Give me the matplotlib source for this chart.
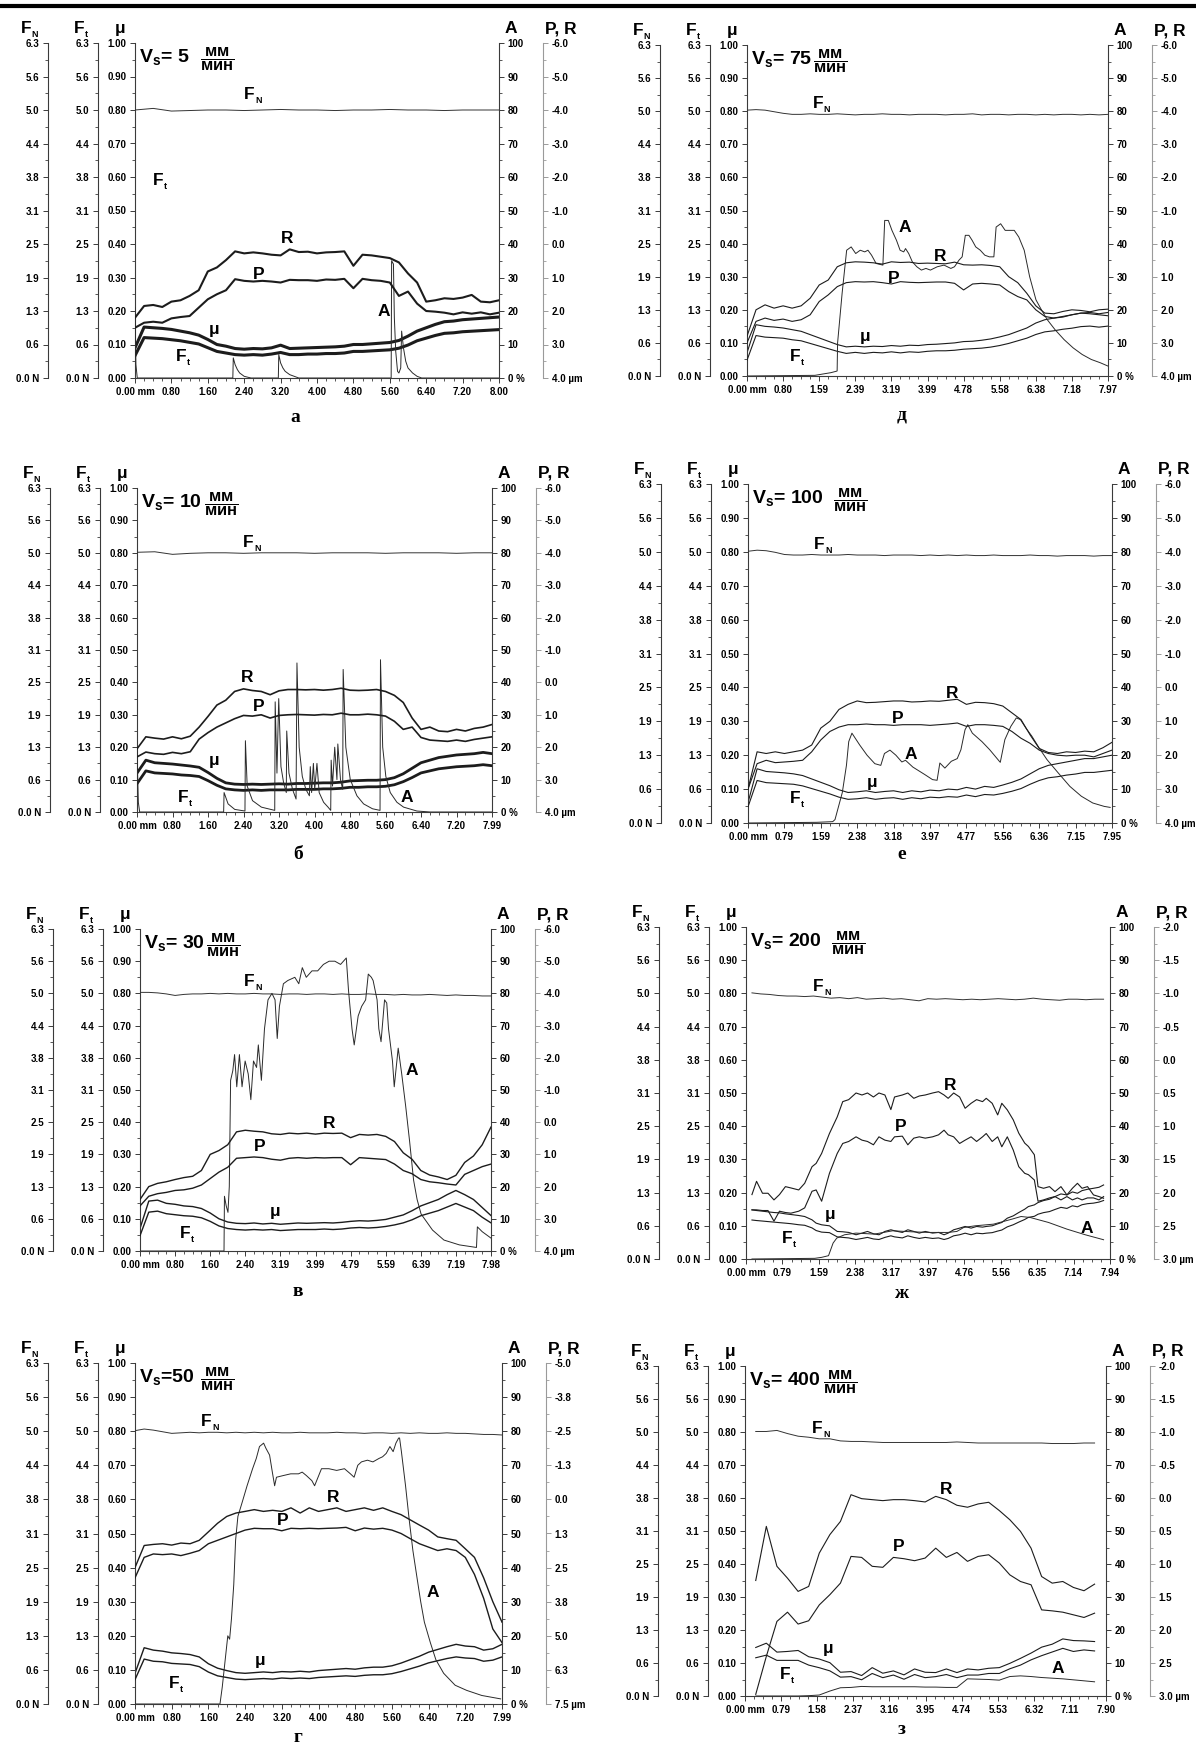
import numpy as np
import matplotlib
matplotlib.use('Agg')
import matplotlib.pyplot as plt
from matplotlib.lines import Line2D

plt.rcParams['font.family'] = ['Liberation Sans', 'DejaVu Sans']
plt.rcParams['font.weight'] = 'bold'
plt.rcParams['mathtext.fontset'] = 'custom'
plt.rcParams['mathtext.rm'] = 'Liberation Sans:bold'
plt.rcParams['mathtext.bf'] = 'Liberation Sans:bold'
plt.rcParams['mathtext.it'] = 'Liberation Sans:italic:bold'
plt.rcParams['mathtext.sf'] = 'Liberation Sans:bold'

# ---------------- DATA ----------------
FN_labels = ['0.0 N', '0.6', '1.3', '1.9', '2.5', '3.1', '3.8', '4.4', '5.0', '5.6', '6.3']
MU_labels = ['0.00', '0.10', '0.20', '0.30', '0.40', '0.50', '0.60', '0.70', '0.80', '0.90', '1.00']
A_labels = ['0 %', '10', '20', '30', '40', '50', '60', '70', '80', '90', '100']
PR_labels_6 = ['-6.0', '-5.0', '-4.0', '-3.0', '-2.0', '-1.0', '0.0', '1.0', '2.0', '3.0', '4.0 µm']
PR_labels_5 = ['-5.0', '-3.8', '-2.5', '-1.3', '0.0', '1.3', '2.5', '3.8', '5.0', '6.3', '7.5 µm']
PR_labels_2 = ['-2.0', '-1.5', '-1.0', '-0.5', '0.0', '0.5', '1.0', '1.5', '2.0', '2.5', '3.0 µm']

X_labels_a = ['0.00 mm', '0.80', '1.60', '2.40', '3.20', '4.00', '4.80', '5.60', '6.40', '7.20', '8.00']
X_labels_b = ['0.00 mm', '0.80', '1.60', '2.40', '3.20', '4.00', '4.80', '5.60', '6.40', '7.20', '7.99']
X_labels_v = ['0.00 mm', '0.80', '1.60', '2.40', '3.19', '3.99', '4.79', '5.59', '6.39', '7.19', '7.98']
X_labels_g = ['0.00 mm', '0.80', '1.60', '2.40', '3.20', '4.00', '4.80', '5.60', '6.40', '7.20', '7.99']
X_labels_d = ['0.00 mm', '0.80', '1.59', '2.39', '3.19', '3.99', '4.78', '5.58', '6.38', '7.18', '7.97']
X_labels_e = ['0.00 mm', '0.79', '1.59', '2.38', '3.18', '3.97', '4.77', '5.56', '6.36', '7.15', '7.95']
X_labels_zh = ['0.00 mm', '0.79', '1.59', '2.38', '3.17', '3.97', '4.76', '5.56', '6.35', '7.14', '7.94']
X_labels_z = ['0.00 mm', '0.79', '1.58', '2.37', '3.16', '3.95', '4.74', '5.53', '6.32', '7.11', '7.90']

# ---- panel а (Vs = 5 mm/min) ----
FN_a = [5.04, 5.07, 5.02, 5.03, 5.04, 5.04, 5.03, 5.04, 5.05, 5.04, 5.04, 5.03, 5.04, 5.04, 5.05, 5.04, 5.04, 5.03, 5.04, 5.04, 5.04]
R_a = [2.2, 1.85, 1.82, 1.88, 1.72, 1.68, 1.55, 1.38, 0.82, 0.70, 0.48, 0.22, 0.28, 0.25, 0.28, 0.32, 0.34, 0.16, 0.24, 0.23,
       0.28, 0.25, 0.24, 0.22, 0.65, 0.32, 0.34, 0.38, 0.42, 0.55, 0.88, 1.15, 1.72, 1.68, 1.62, 1.64, 1.60, 1.52, 1.72, 1.74, 1.68]
P_a = [2.5, 2.35, 2.32, 2.35, 2.22, 2.18, 2.15, 1.9, 1.65, 1.5, 1.38, 1.05, 1.1, 1.12, 1.1, 1.12, 1.15, 1.07, 1.08, 1.08,
       1.1, 1.06, 1.07, 1.04, 1.32, 1.04, 1.08, 1.1, 1.15, 1.55, 1.42, 1.78, 2.0, 2.02, 2.05, 2.1, 2.04, 2.08, 2.04, 2.1, 2.05]
mu_a = [0.09, 0.152, 0.150, 0.148, 0.145, 0.140, 0.135, 0.128, 0.115, 0.100, 0.095, 0.088, 0.086, 0.088, 0.087, 0.090, 0.098, 0.088, 0.089, 0.090,
        0.091, 0.092, 0.093, 0.095, 0.100, 0.100, 0.102, 0.104, 0.106, 0.112, 0.125, 0.140, 0.150, 0.160, 0.168, 0.170, 0.174, 0.176, 0.178, 0.180, 0.182]
Ft_a = [0.42, 0.76, 0.75, 0.74, 0.72, 0.70, 0.67, 0.64, 0.57, 0.50, 0.47, 0.44, 0.43, 0.44, 0.43, 0.45, 0.48, 0.44, 0.44, 0.45,
        0.45, 0.46, 0.46, 0.47, 0.50, 0.50, 0.51, 0.52, 0.53, 0.56, 0.62, 0.70, 0.75, 0.80, 0.84, 0.85, 0.87, 0.88, 0.89, 0.90, 0.91]
A_a = [(0, 21), (0.02, 4), (0.05, 0), (2.15, 0), (2.16, 6), (2.2, 4), (2.25, 2.5), (2.3, 1.5), (2.4, 0.5), (2.55, 0),
       (3.15, 0), (3.16, 7), (3.2, 4.5), (3.25, 3), (3.3, 2), (3.4, 1), (3.6, 0), (5.63, 0), (5.64, 35), (5.68, 34),
       (5.70, 18), (5.73, 8), (5.77, 2), (5.80, 1.5), (5.84, 3), (5.86, 14), (5.9, 9), (5.95, 5), (6.0, 3), (6.1, 1.5),
       (6.2, 0.5), (6.3, 0), (8.0, 0)]

# ---- panel б (Vs = 10 mm/min) ----
FN_b = [5.05, 5.06, 5.01, 5.03, 5.04, 5.04, 5.03, 5.04, 5.04, 5.04, 5.03, 5.04, 5.04, 5.04, 5.03, 5.04, 5.04, 5.04, 5.03, 5.04, 5.04]
R_b = [2.05, 1.68, 1.72, 1.75, 1.68, 1.74, 1.66, 1.38, 1.05, 0.7, 0.55, 0.28, 0.2, 0.25, 0.28, 0.38, 0.26, 0.22, 0.22, 0.23,
       0.22, 0.24, 0.22, 0.18, 0.24, 0.25, 0.24, 0.22, 0.28, 0.4, 0.62, 1.1, 1.45, 1.38, 1.5, 1.52, 1.45, 1.5, 1.42, 1.38, 1.3]
P_b = [2.3, 2.15, 2.2, 2.22, 2.16, 2.2, 2.14, 1.75, 1.55, 1.38, 1.25, 1.12, 1.02, 1.04, 1.0, 1.1, 1.02, 1.0, 0.99, 1.0,
       1.01, 0.99, 1.0, 0.95, 1.0, 1.0, 0.98, 1.0, 1.04, 1.2, 1.45, 1.38, 1.7, 1.78, 1.8, 1.82, 1.78, 1.82, 1.76, 1.72, 1.68]
mu_b = [0.12, 0.160, 0.152, 0.150, 0.148, 0.145, 0.142, 0.138, 0.122, 0.104, 0.090, 0.086, 0.085, 0.086, 0.085, 0.086, 0.087, 0.086, 0.088, 0.088,
        0.089, 0.090, 0.090, 0.092, 0.096, 0.097, 0.098, 0.098, 0.100, 0.106, 0.118, 0.135, 0.152, 0.160, 0.168, 0.172, 0.176, 0.178, 0.180, 0.184, 0.180]
Ft_b = [0.55, 0.80, 0.76, 0.75, 0.74, 0.72, 0.71, 0.69, 0.61, 0.52, 0.45, 0.43, 0.42, 0.43, 0.42, 0.43, 0.43, 0.43, 0.44, 0.44,
        0.44, 0.45, 0.45, 0.46, 0.48, 0.48, 0.49, 0.49, 0.50, 0.53, 0.59, 0.67, 0.76, 0.80, 0.84, 0.86, 0.88, 0.89, 0.90, 0.92, 0.90]
A_b = [(0, 19), (0.03, 3), (0.06, 0), (1.95, 0), (1.96, 6), (2.05, 2.5), (2.2, 0.8), (2.43, 0.3),
       (2.44, 22), (2.48, 8), (2.6, 3.5), (2.8, 1.5), (3.1, 0.5),
       (3.11, 34), (3.15, 12), (3.17, 24), (3.19, 35), (3.24, 14), (3.3, 9), (3.36, 6), (3.37, 25), (3.42, 12), (3.5, 7), (3.58, 4),
       (3.6, 46), (3.65, 20), (3.72, 11), (3.8, 7), (3.88, 5), (3.9, 14), (3.93, 6), (3.97, 15), (4.0, 7), (4.05, 15), (4.1, 6),
       (4.2, 3), (4.3, 1.5), (4.36, 0.5), (4.37, 16), (4.4, 8), (4.45, 20), (4.5, 10), (4.52, 21), (4.58, 10), (4.63, 7),
       (4.64, 44), (4.7, 20), (4.8, 10), (4.95, 5), (5.1, 2.5), (5.3, 1), (5.47, 0.5),
       (5.48, 47), (5.53, 20), (5.6, 11), (5.7, 6), (5.85, 3), (6.0, 1.5), (6.3, 0.3), (6.6, 0), (7.99, 0)]

# ---- panel в (Vs = 30 mm/min) ----
FN_v = [5.06, 5.06, 5.05, 5.03, 5.0, 5.02, 5.03, 5.03, 5.04, 5.03, 5.04, 5.03, 5.03, 5.04, 5.03, 5.03, 5.02, 5.03, 5.03, 5.02,
        5.03, 5.03, 5.02, 5.03, 5.02, 5.02, 5.03, 5.02, 5.02, 5.01, 5.02, 5.01, 5.01, 5.02, 5.01, 5.0, 5.01, 5.0, 5.0, 4.99, 4.99]
R_v = [2.4, 2.0, 1.9, 1.85, 1.78, 1.72, 1.68, 1.5, 1.0, 0.88, 0.7, 0.3, 0.25, 0.28, 0.3, 0.36, 0.38, 0.34, 0.36, 0.34,
       0.37, 0.34, 0.35, 0.34, 0.48, 0.38, 0.4, 0.38, 0.44, 0.6, 0.95, 1.15, 1.5, 1.64, 1.7, 1.78, 1.65, 1.25, 1.05, 0.7, 0.15]
P_v = [2.6, 2.3, 2.22, 2.18, 2.12, 2.1, 2.05, 1.95, 1.75, 1.55, 1.4, 1.12, 1.1, 1.08, 1.1, 1.15, 1.18, 1.12, 1.1, 1.12,
       1.1, 1.11, 1.1, 1.1, 1.32, 1.1, 1.12, 1.14, 1.16, 1.3, 1.5, 1.6, 1.78, 1.85, 1.88, 1.92, 1.95, 1.62, 1.5, 1.38, 1.3]
mu_v = [0.07, 0.155, 0.158, 0.148, 0.145, 0.14, 0.138, 0.132, 0.118, 0.10, 0.09, 0.086, 0.085, 0.087, 0.084, 0.086, 0.083, 0.085, 0.087, 0.086,
        0.087, 0.088, 0.087, 0.089, 0.092, 0.094, 0.093, 0.095, 0.098, 0.105, 0.112, 0.125, 0.14, 0.15, 0.16, 0.175, 0.188, 0.175, 0.16, 0.135, 0.11]
Ft_v = [0.30, 0.76, 0.78, 0.73, 0.71, 0.69, 0.68, 0.65, 0.58, 0.49, 0.44, 0.42, 0.41, 0.42, 0.41, 0.42, 0.40, 0.41, 0.42, 0.42,
        0.42, 0.43, 0.42, 0.43, 0.45, 0.46, 0.45, 0.46, 0.48, 0.51, 0.55, 0.61, 0.69, 0.74, 0.79, 0.86, 0.93, 0.86, 0.79, 0.66, 0.55]
A_v = [(0, 0), (1.91, 0), (1.92, 17), (1.96, 14), (2.0, 12), (2.03, 20), (2.06, 53), (2.11, 56), (2.15, 61), (2.2, 51),
       (2.26, 61), (2.32, 51), (2.39, 59), (2.46, 55), (2.52, 47), (2.58, 59), (2.65, 57), (2.69, 64), (2.76, 53), (2.83, 69),
       (2.91, 78), (3.0, 80), (3.07, 78), (3.12, 66), (3.17, 76), (3.26, 83), (3.36, 84), (3.52, 85), (3.61, 83), (3.69, 88),
       (3.78, 85), (3.91, 87), (4.04, 87), (4.17, 89), (4.3, 90), (4.43, 90), (4.56, 89), (4.69, 91), (4.74, 81), (4.82, 69),
       (4.87, 64), (4.96, 73), (5.04, 76), (5.13, 78), (5.19, 86), (5.26, 85), (5.30, 84), (5.39, 78), (5.43, 69), (5.48, 65),
       (5.56, 78), (5.61, 77), (5.65, 69), (5.74, 59), (5.78, 51), (5.87, 63), (5.95, 55), (6.04, 45), (6.13, 34), (6.22, 22),
       (6.3, 16), (6.39, 11.5), (6.65, 6.5), (6.91, 3.4), (7.26, 1.9), (7.65, 1.1), (7.67, 7.5), (7.78, 6), (7.98, 4)]

# ---- panel г (Vs = 50 mm/min) ----
FN_g = [5.05, 5.08, 5.06, 5.03, 5.0, 5.01, 5.02, 5.01, 5.02, 5.02, 5.01, 5.02, 5.01, 5.02, 5.01, 5.02, 5.01, 5.01, 5.02, 5.01,
        5.01, 5.01, 5.02, 5.01, 5.01, 5.0, 5.01, 5.01, 5.0, 5.01, 5.0, 5.01, 5.0, 5.0, 5.01, 5.0, 5.0, 4.99, 4.98, 4.98, 4.97]
R_g = [2.5, 1.69, 1.65, 1.625, 1.675, 1.6, 1.625, 1.5, 1.19, 0.875, 0.625, 0.5, 0.44, 0.375, 0.44, 0.4, 0.44, 0.31, 0.5, 0.31,
       0.44, 0.375, 0.31, 0.44, 0.375, 0.31, 0.4, 0.31, 0.44, 0.56, 0.75, 0.94, 1.125, 1.375, 1.44, 1.5, 1.81, 2.125, 2.875, 3.75, 4.5]
P_g = [2.875, 2.125, 2.0, 2.025, 2.0, 2.06, 1.975, 1.875, 1.625, 1.5, 1.375, 1.25, 1.125, 1.06, 1.075, 1.075, 1.15, 1.06, 1.075, 1.06,
       1.075, 1.06, 1.05, 1.025, 1.15, 1.05, 1.09, 1.06, 1.125, 1.25, 1.44, 1.625, 1.75, 1.875, 1.81, 1.875, 2.125, 2.75, 3.625, 4.75, 5.25]
mu_g = [0.09, 0.165, 0.158, 0.155, 0.150, 0.148, 0.145, 0.138, 0.118, 0.105, 0.098, 0.092, 0.090, 0.092, 0.094, 0.092, 0.095, 0.094, 0.096, 0.094,
        0.098, 0.100, 0.102, 0.104, 0.102, 0.106, 0.108, 0.108, 0.112, 0.12, 0.13, 0.14, 0.152, 0.16, 0.168, 0.175, 0.17, 0.168, 0.158, 0.162, 0.175]
Ft_g = [0.45, 0.83, 0.79, 0.78, 0.75, 0.74, 0.73, 0.69, 0.59, 0.52, 0.49, 0.46, 0.45, 0.46, 0.47, 0.46, 0.48, 0.47, 0.48, 0.47,
        0.49, 0.50, 0.51, 0.52, 0.51, 0.53, 0.54, 0.54, 0.56, 0.60, 0.65, 0.70, 0.76, 0.80, 0.84, 0.87, 0.85, 0.84, 0.79, 0.81, 0.87]
A_g = [(0, 0), (1.85, 0), (1.9, 5), (1.98, 15), (2.02, 20), (2.06, 19), (2.1, 25), (2.15, 35), (2.19, 48), (2.24, 55),
       (2.33, 59), (2.44, 64), (2.56, 69), (2.64, 72), (2.71, 75.5), (2.8, 76.5), (2.85, 75), (2.93, 73), (2.99, 68), (3.04, 64),
       (3.08, 66.5), (3.23, 67), (3.39, 67.5), (3.56, 67.5), (3.64, 68), (3.73, 67), (3.85, 65.5), (3.91, 64), (3.97, 66), (4.06, 69),
       (4.22, 69), (4.39, 68.5), (4.56, 69), (4.69, 67.5), (4.77, 66.5), (4.85, 70), (4.93, 71), (5.06, 71.5), (5.18, 71), (5.31, 72),
       (5.39, 72.5), (5.47, 73.5), (5.55, 75.5), (5.62, 74), (5.68, 76.5), (5.74, 78), (5.76, 78), (5.8, 74), (5.89, 64), (5.97, 54),
       (6.05, 45), (6.14, 37), (6.22, 30), (6.3, 24), (6.43, 18), (6.55, 13), (6.72, 9), (6.97, 5.5), (7.22, 4), (7.55, 2.5), (7.96, 1.5)]

# ---- panel д (Vs = 75 mm/min) ----
FN_d = [5.06, 5.07, 5.06, 5.03, 5.0, 4.98, 4.98, 4.99, 4.98, 4.98, 4.99, 4.98, 4.97, 4.98, 4.98, 4.99, 4.98, 4.98, 4.97, 4.98,
        4.98, 4.98, 4.97, 4.98, 4.98, 4.99, 4.97, 4.98, 4.98, 4.97, 4.98, 4.98, 4.97, 4.98, 4.97, 4.98, 4.98, 4.97, 4.98, 4.97, 4.98]
R_d = [2.8, 2.0, 1.85, 1.95, 1.88, 1.95, 1.88, 1.65, 1.25, 1.1, 0.7, 0.58, 0.55, 0.56, 0.58, 0.62, 0.55, 0.57, 0.56, 0.6,
       0.59, 0.6, 0.61, 0.56, 0.64, 0.65, 0.64, 0.66, 0.7, 1.0, 1.18, 1.5, 1.88, 2.1, 2.12, 2.05, 2.0, 2.02, 2.06, 2.0, 1.98]
P_d = [3.0, 2.35, 2.25, 2.32, 2.28, 2.35, 2.3, 2.15, 1.75, 1.55, 1.3, 1.18, 1.15, 1.16, 1.15, 1.18, 1.22, 1.15, 1.17, 1.18,
       1.17, 1.16, 1.16, 1.2, 1.4, 1.22, 1.2, 1.22, 1.25, 1.45, 1.6, 1.7, 2.0, 2.2, 2.25, 2.22, 2.15, 2.1, 2.12, 2.15, 2.18]
mu_d = [0.07, 0.155, 0.15, 0.148, 0.145, 0.14, 0.135, 0.125, 0.115, 0.105, 0.095, 0.088, 0.09, 0.088, 0.09, 0.089, 0.092, 0.09, 0.093, 0.092,
        0.095, 0.096, 0.098, 0.10, 0.104, 0.105, 0.108, 0.112, 0.118, 0.125, 0.135, 0.145, 0.16, 0.17, 0.175, 0.18, 0.185, 0.19, 0.192, 0.188, 0.192]
Ft_d = [0.30, 0.77, 0.74, 0.73, 0.72, 0.69, 0.67, 0.62, 0.57, 0.52, 0.47, 0.43, 0.45, 0.43, 0.45, 0.44, 0.46, 0.44, 0.46, 0.45,
        0.47, 0.48, 0.48, 0.49, 0.51, 0.52, 0.53, 0.55, 0.58, 0.62, 0.67, 0.72, 0.79, 0.84, 0.86, 0.89, 0.91, 0.94, 0.95, 0.93, 0.95]
A_d = [(0, 0), (1.5, 0.2), (1.85, 1), (1.99, 1.5), (2.0, 10), (2.1, 25), (2.2, 38), (2.3, 39), (2.4, 37), (2.5, 38),
       (2.6, 37.5), (2.67, 38), (2.75, 36.5), (2.85, 34), (3.0, 33.5), (3.04, 47), (3.12, 47), (3.2, 44), (3.3, 41), (3.38, 38),
       (3.46, 37.5), (3.5, 38.5), (3.57, 37), (3.65, 34.5), (3.75, 33), (3.85, 32), (3.95, 32.5), (4.05, 32), (4.2, 33), (4.35, 33.5),
       (4.5, 32.5), (4.58, 33), (4.68, 35), (4.75, 36), (4.82, 42.5), (4.9, 42.5), (4.97, 41), (5.05, 39), (5.15, 38), (5.25, 36.5),
       (5.35, 36), (5.45, 36), (5.5, 45), (5.6, 46), (5.7, 44), (5.8, 44), (5.9, 44), (6.0, 42), (6.12, 38), (6.24, 30),
       (6.38, 23), (6.5, 20), (6.63, 17), (6.8, 14), (7.0, 11), (7.2, 8.5), (7.4, 6.5), (7.6, 5), (7.8, 4), (7.97, 3)]

# ---- panel е (Vs = 100 mm/min) ----
FN_e = [5.05, 5.07, 5.06, 5.03, 4.99, 4.98, 4.98, 4.99, 4.98, 4.98, 4.98, 4.99, 4.98, 4.98, 4.98, 4.97, 4.98, 4.98, 4.98, 4.97,
        4.98, 4.97, 4.98, 4.97, 4.98, 4.97, 4.97, 4.98, 4.97, 4.97, 4.97, 4.98, 4.97, 4.97, 4.96, 4.97, 4.97, 4.97, 4.96, 4.97, 4.97]
R_e = [3.0, 1.9, 1.95, 1.9, 1.95, 1.9, 1.85, 1.7, 1.2, 1.0, 0.65, 0.5, 0.4, 0.45, 0.44, 0.42, 0.4, 0.4, 0.43, 0.42,
       0.4, 0.41, 0.38, 0.35, 0.5, 0.44, 0.45, 0.48, 0.55, 0.75, 0.95, 1.4, 1.8, 1.92, 1.95, 1.9, 1.92, 1.88, 1.9, 1.78, 1.62]
P_e = [3.0, 2.25, 2.15, 2.22, 2.2, 2.18, 2.15, 1.9, 1.55, 1.3, 1.17, 1.1, 1.1, 1.08, 1.1, 1.1, 1.12, 1.1, 1.1, 1.1,
       1.12, 1.1, 1.08, 1.05, 1.15, 1.1, 1.1, 1.12, 1.15, 1.3, 1.5, 1.65, 1.85, 1.95, 2.0, 2.02, 2.0, 2.0, 2.05, 1.95, 1.85]
mu_e = [0.06, 0.16, 0.152, 0.15, 0.148, 0.145, 0.14, 0.13, 0.12, 0.11, 0.098, 0.09, 0.092, 0.095, 0.09, 0.093, 0.095, 0.09, 0.095, 0.092,
        0.097, 0.095, 0.1, 0.098, 0.105, 0.1, 0.108, 0.105, 0.112, 0.12, 0.13, 0.145, 0.16, 0.17, 0.175, 0.18, 0.185, 0.19, 0.19, 0.195, 0.20]
Ft_e = [0.30, 0.79, 0.75, 0.74, 0.73, 0.72, 0.69, 0.64, 0.59, 0.54, 0.48, 0.44, 0.45, 0.47, 0.44, 0.46, 0.47, 0.44, 0.47, 0.45,
        0.48, 0.47, 0.49, 0.48, 0.52, 0.49, 0.53, 0.52, 0.55, 0.59, 0.64, 0.72, 0.79, 0.84, 0.86, 0.89, 0.91, 0.94, 0.94, 0.96, 0.98]
A_e = [(0, 0), (1.5, 0.2), (1.85, 0.4), (1.9, 1), (1.98, 5), (2.06, 9), (2.15, 17), (2.2, 24), (2.27, 26.5), (2.44, 23),
       (2.6, 20), (2.77, 17.5), (2.9, 17), (2.98, 20.5), (3.1, 21.5), (3.23, 20), (3.36, 18), (3.44, 18.5), (3.6, 16.5), (3.86, 14.3),
       (4.03, 12.8), (4.13, 12.6), (4.19, 17.7), (4.3, 16.2), (4.44, 18.2), (4.57, 19), (4.65, 21.6), (4.74, 27.5), (4.8, 29), (4.9, 26.5),
       (5.11, 24), (5.28, 21.6), (5.49, 18.2), (5.51, 17.9), (5.61, 24.6), (5.74, 28.5), (5.86, 31), (5.95, 30.5), (6.07, 28), (6.2, 25.6),
       (6.36, 22.1), (6.53, 18.7), (6.78, 14.7), (7.03, 10.8), (7.28, 7.9), (7.53, 5.9), (7.78, 4.9), (7.91, 4.6)]

# ---- panel ж (Vs = 200 mm/min), sampled positions in mm ----
x_zh = [0.13, 0.23, 0.36, 0.48, 0.61, 0.73, 0.86, 0.98, 1.15, 1.28, 1.44, 1.53, 1.65, 1.82, 1.99, 2.11, 2.24, 2.40, 2.53, 2.65,
        2.78, 2.90, 3.03, 3.16, 3.24, 3.41, 3.53, 3.66, 3.78, 3.91, 4.07, 4.20, 4.32, 4.41, 4.53, 4.66, 4.78, 4.91, 5.03, 5.16,
        5.24, 5.37, 5.49, 5.58, 5.70, 5.83, 5.95, 6.08, 6.16, 6.29, 6.37, 6.49, 6.62, 6.74, 6.87, 7.00, 7.12, 7.23, 7.33, 7.45,
        7.58, 7.70, 7.80]
FN_zh = [5.05, 5.03, 5.02, 5.0, 4.99, 4.99, 4.98, 4.99, 4.97, 4.95, 4.96, 4.94, 4.96, 4.93, 4.94, 4.95, 4.93, 4.94, 4.92, 4.9,
         4.94, 4.93, 4.94, 4.93, 4.92, 4.93, 4.92, 4.93, 4.94, 4.93, 4.92, 4.93, 4.95, 4.93, 4.92, 4.91, 4.93, 4.93, 4.92, 4.93, 4.93]
R_zh = [2.03, 1.83, 2.01, 2.01, 2.11, 2.03, 1.91, 1.93, 1.96, 1.86, 1.61, 1.56, 1.41, 1.11, 0.86, 0.63, 0.6, 0.5, 0.53, 0.5,
        0.56, 0.5, 0.53, 0.75, 0.56, 0.53, 0.5, 0.58, 0.545, 0.53, 0.5, 0.48, 0.53, 0.58, 0.5, 0.56, 0.73, 0.655, 0.6, 0.63,
        0.58, 0.655, 0.83, 0.655, 0.755, 0.905, 1.105, 1.255, 1.305, 1.43, 1.91, 1.935, 1.91, 1.985, 1.91, 2.035, 1.935, 1.86, 1.935, 1.91,
        2.035, 2.06, 2.085]
P_zh = [2.26, 2.26, 2.27, 2.27, 2.43, 2.28, 2.3, 2.31, 2.28, 2.23, 1.98, 1.96, 2.13, 1.71, 1.41, 1.26, 1.23, 1.16, 1.21, 1.23,
        1.28, 1.16, 1.21, 1.23, 1.16, 1.15, 1.28, 1.18, 1.16, 1.18, 1.16, 1.13, 1.06, 1.13, 1.16, 1.26, 1.21, 1.16, 1.23, 1.16,
        1.11, 1.23, 1.16, 1.31, 1.16, 1.36, 1.61, 1.71, 1.73, 1.81, 2.13, 2.11, 2.08, 2.06, 2.11, 2.06, 2.11, 2.08, 2.11, 2.08,
        2.08, 2.11, 2.06]
mu_zh = [0.148, 0.146, 0.144, 0.142, 0.140, 0.139, 0.136, 0.134, 0.131, 0.128, 0.118, 0.108, 0.103, 0.100, 0.083, 0.082, 0.080, 0.073, 0.078, 0.083,
         0.076, 0.073, 0.083, 0.088, 0.085, 0.080, 0.088, 0.083, 0.078, 0.083, 0.078, 0.080, 0.073, 0.078, 0.088, 0.093, 0.098, 0.093, 0.098, 0.096,
         0.098, 0.100, 0.106, 0.110, 0.123, 0.130, 0.140, 0.150, 0.158, 0.163, 0.170, 0.176, 0.180, 0.188, 0.196, 0.193, 0.202, 0.198, 0.206, 0.210,
         0.213, 0.216, 0.223]
Ft_zh = [0.74, 0.73, 0.72, 0.71, 0.70, 0.69, 0.68, 0.67, 0.65, 0.64, 0.59, 0.54, 0.51, 0.50, 0.42, 0.41, 0.40, 0.37, 0.39, 0.41,
         0.38, 0.37, 0.41, 0.44, 0.42, 0.40, 0.44, 0.41, 0.39, 0.41, 0.39, 0.40, 0.37, 0.39, 0.44, 0.46, 0.49, 0.46, 0.49, 0.48,
         0.49, 0.50, 0.53, 0.55, 0.61, 0.65, 0.70, 0.75, 0.79, 0.81, 0.85, 0.88, 0.90, 0.94, 0.98, 0.96, 1.01, 0.99, 1.03, 1.05,
         1.06, 1.08, 1.11]
A_zh = [(0.13, 0), (1.5, 0.2), (1.65, 0.5), (1.8, 1.0), (1.9, 4.8), (1.98, 6.3), (2.15, 7.3), (2.4, 7.8), (2.8, 7.5), (3.2, 8.5),
        (3.6, 8.2), (4.0, 8.0), (4.4, 8.0), (4.6, 8.3), (4.75, 9.5), (5.0, 10), (5.4, 10.5), (5.8, 12), (6.0, 12.8), (6.2, 12.5),
        (6.6, 11), (7.0, 9), (7.4, 7.3), (7.8, 5.8)]

# ---- panel з (Vs = 400 mm/min), 33 samples from 0.235 to 7.65 mm ----
z_start, z_end = 0.235, 7.65
FN_z = [5.05, 5.05, 5.07, 5.01, 4.96, 4.94, 4.91, 4.91, 4.87, 4.86, 4.86, 4.85, 4.84, 4.84, 4.84, 4.84, 4.84, 4.84, 4.84, 4.85,
        4.84, 4.83, 4.83, 4.83, 4.83, 4.83, 4.83, 4.83, 4.82, 4.82, 4.82, 4.83, 4.83]
R_z = [1.25, 0.43, 1.035, 1.215, 1.415, 1.34, 0.835, 0.555, 0.355, -0.05, 0.01, 0.025, 0.04, 0.025, 0.025, 0.04, 0.06, -0.025, 0.025, 0.11,
       0.14, 0.09, 0.065, 0.19, 0.33, 0.505, 0.76, 1.19, 1.29, 1.265, 1.355, 1.405, 1.305]
P_z = [2.975, 2.4, 1.87, 1.73, 1.91, 1.86, 1.62, 1.465, 1.29, 0.885, 0.9, 1.035, 1.05, 0.9, 0.92, 0.95, 0.91, 0.76, 0.9, 0.825,
       0.96, 0.885, 0.86, 0.985, 1.165, 1.265, 1.315, 1.695, 1.71, 1.73, 1.77, 1.81, 1.745]
mu_z = [0.147, 0.16, 0.133, 0.135, 0.138, 0.119, 0.112, 0.101, 0.072, 0.074, 0.062, 0.086, 0.069, 0.076, 0.064, 0.082, 0.072, 0.071, 0.082, 0.071,
        0.082, 0.079, 0.084, 0.086, 0.099, 0.114, 0.13, 0.148, 0.157, 0.173, 0.168, 0.167, 0.165]
Ft_z = [0.73, 0.78, 0.68, 0.68, 0.68, 0.59, 0.54, 0.48, 0.36, 0.37, 0.31, 0.43, 0.35, 0.40, 0.32, 0.41, 0.35, 0.37, 0.41, 0.35,
        0.40, 0.40, 0.43, 0.43, 0.52, 0.59, 0.69, 0.77, 0.84, 0.91, 0.85, 0.88, 0.86]
A_z = [0, 0, 0, 0, 0, 0.1, 0.3, 1.5, 2.5, 2.6, 2.9, 2.8, 2.8, 2.8, 2.8, 2.8, 2.7, 2.7, 2.6, 2.6,
       5.2, 5.1, 5.0, 4.8, 5.9, 6.1, 5.9, 5.6, 5.4, 5.2, 4.9, 4.6, 4.3]

# ---------------- FIGURE ----------------
W, H = 1196, 1745
PX = 0.72  # points per pixel at dpi 100
fig = plt.figure(figsize=(W / 100, H / 100), dpi=100)
fig.patch.set_facecolor('white')
fig.add_artist(Line2D([0, 1], [1 - 6 / H, 1 - 6 / H], transform=fig.transFigure, color='black', lw=3.0))
renderer = fig.canvas.get_renderer()

SPINE = '#3a3a3a'
LINE = '#1c1c1c'
TICKFS = 7.0
LABFS = 12.5
SUBFS = 6.5


def ftext(xpx, ypx, s, **kw):
    return fig.text(xpx / W, 1 - ypx / H, s, **kw)


def add_sub(main_text, sub):
    bb = main_text.get_window_extent(renderer)
    fig.text((bb.x1 + 0.5) / W, (bb.y0 + 1.5) / H, sub, ha='left', va='center', fontsize=SUBFS)


def style_axis(a):
    a.tick_params(axis='y', which='major', direction='out', length=3.8, width=0.7, labelsize=TICKFS, pad=2.5, colors='black')
    a.tick_params(axis='y', which='minor', direction='out', length=2.2, width=0.6)


def make_twin(ax, side, offset_px, lim, ticks, labels, minor, color=SPINE):
    t = ax.twinx()
    t.set_ylim(*lim)
    for s in t.spines.values():
        s.set_visible(False)
    sp = t.spines[side]
    sp.set_visible(True)
    sp.set_position(('outward', offset_px * PX))
    sp.set_color(color)
    sp.set_linewidth(0.8)
    t.yaxis.set_ticks_position(side)
    t.yaxis.set_label_position(side)
    t.set_yticks(ticks)
    t.set_yticklabels(labels)
    t.set_yticks(minor, minor=True)
    style_axis(t)
    t.tick_params(axis='y', which='both', color=color)
    return t


FRAC = r'$\dfrac{\mathbf{мм}}{\mathbf{мин}}$'


def draw_panel(box, xmax, xlabels, pr_lim, pr_labels, FN, R, P, mu, Ft, A, letter, letter_xy, vs, gap, labels,
               x_grid=None, x_fn=None, A_pairs=True, lw_rp=0.8, lw_mf=0.8):
    L, Rr, T, B = box
    ax = fig.add_axes([L / W, 1 - B / H, (Rr - L) / W, (B - T) / H])
    ax.patch.set_alpha(0)
    ax.set_xlim(0, xmax)
    ax.set_ylim(0, 1)
    ax.spines['top'].set_visible(False)
    ax.spines['right'].set_visible(False)
    for s in ('left', 'bottom'):
        ax.spines[s].set_color(SPINE)
        ax.spines[s].set_linewidth(0.8)
    ax.set_yticks(np.linspace(0, 1, 11))
    ax.set_yticklabels(MU_labels)
    ax.set_yticks(np.linspace(0.05, 0.95, 10), minor=True)
    ax.set_xticks(np.linspace(0, xmax, 11))
    ax.set_xticklabels(xlabels)
    ax.set_xticks(np.linspace(0, xmax, 41), minor=True)
    style_axis(ax)
    ax.tick_params(axis='both', which='both', color=SPINE)
    ax.tick_params(axis='x', which='major', direction='out', length=3.8, width=0.7, labelsize=TICKFS, pad=2.5)
    ax.tick_params(axis='x', which='minor', direction='out', length=2.2, width=0.6)

    f_ticks = np.linspace(0, 6.3, 11)
    f_minor = (f_ticks[:-1] + f_ticks[1:]) / 2
    axFt = make_twin(ax, 'left', 37, (0, 6.3), f_ticks, FN_labels, f_minor)
    axFN = make_twin(ax, 'left', 87, (0, 6.3), f_ticks, FN_labels, f_minor)
    axA = make_twin(ax, 'right', 0, (0, 100), np.linspace(0, 100, 11), A_labels, np.linspace(5, 95, 10))
    pr_ticks = np.linspace(pr_lim[1], pr_lim[0], 11)
    pr_minor = (pr_ticks[:-1] + pr_ticks[1:]) / 2
    axPR = make_twin(ax, 'right', 44, pr_lim, pr_ticks, pr_labels, pr_minor, color='#9a9a9a')

    if x_grid is None:
        xr = np.linspace(0, xmax, len(R))
        xp = np.linspace(0, xmax, len(P))
        xm = np.linspace(0, xmax, len(mu))
        xf = np.linspace(0, xmax, len(Ft))
        xn = np.linspace(0, xmax, len(FN))
    else:
        xr = xp = xm = xf = np.asarray(x_grid)
        xn = x_fn if x_fn is not None else np.asarray(x_grid)

    axFN.plot(xn, FN, color='#333333', lw=0.7)
    axPR.plot(xr, R, color=LINE, lw=lw_rp)
    axPR.plot(xp, P, color=LINE, lw=lw_rp)
    ax.plot(xm, mu, color=LINE, lw=lw_mf)
    axFt.plot(xf, Ft, color=LINE, lw=lw_mf)
    if A_pairs:
        ax_x, ax_y = zip(*A)
    else:
        ax_x, ax_y = xr, A
    axA.plot(ax_x, ax_y, color='#2a2a2a', lw=0.7)

    # axis titles
    base = T - 10
    t = ftext(L - 87 - 22, base, 'F', ha='center', va='baseline', fontsize=LABFS)
    add_sub(t, 'N')
    t = ftext(L - 37 - 19, base, 'F', ha='center', va='baseline', fontsize=LABFS)
    add_sub(t, 't')
    ftext(L - 15, base, 'μ', ha='center', va='baseline', fontsize=LABFS)
    ftext(Rr + 12, base, 'A', ha='center', va='baseline', fontsize=LABFS)
    ftext(Rr + 44 + 18, base, 'P, R', ha='center', va='baseline', fontsize=LABFS)

    # curve labels
    for s, x, y in labels:
        if s in ('FN', 'Ft'):
            t = ax.text(x, y, 'F', ha='left', va='center', fontsize=LABFS)
            add_sub(t, 'N' if s == 'FN' else 't')
        else:
            ax.text(x, y, s, ha='left', va='center', fontsize=LABFS)

    # sliding speed text
    t1 = ax.annotate(vs, xy=(0, 1), xycoords='axes fraction', xytext=(4, -4), textcoords='offset pixels',
                     ha='left', va='top', fontsize=14)
    bb = t1.get_window_extent(renderer)
    ax.annotate(FRAC, xy=(bb.x1 + gap, (bb.y0 + bb.y1) / 2 - 2), xycoords='figure pixels',
                ha='left', va='center', fontsize=12)
    ftext(letter_xy[0], letter_xy[1], letter, ha='center', va='center', family='Liberation Serif',
          weight='bold', fontsize=14)
    return ax


draw_panel((135, 499, 43, 378), 8.00, X_labels_a, (4, -6), PR_labels_6, FN_a, R_a, P_a, mu_a, Ft_a, A_a,
           'а', (295, 417), r'V$_\mathregular{s}$= 5', 11,
           [('FN', 2.4, 0.845), ('Ft', 0.40, 0.59), ('R', 3.2, 0.415), ('P', 2.58, 0.31), ('A', 5.34, 0.20),
            ('μ', 1.62, 0.145), ('Ft', 0.9, 0.065)], lw_rp=1.5, lw_mf=2.2)

draw_panel((137, 492, 488, 812), 7.99, X_labels_b, (4, -6), PR_labels_6, FN_b, R_b, P_b, mu_b, Ft_b, A_b,
           'б', (298, 854), r'V$_\mathregular{s}$= 10', 2,
           [('FN', 2.39, 0.833), ('R', 2.34, 0.415), ('P', 2.6, 0.327), ('μ', 1.62, 0.16), ('Ft', 0.92, 0.046),
            ('A', 5.93, 0.044)], lw_rp=1.2, lw_mf=2.0)

draw_panel((140, 491, 929, 1251), 7.98, X_labels_v, (4, -6), PR_labels_6, FN_v, R_v, P_v, mu_v, Ft_v, A_v,
           'в', (298, 1291), r'V$_\mathregular{s}$= 30', 1,
           [('FN', 2.37, 0.836), ('A', 6.04, 0.562), ('R', 4.15, 0.396), ('P', 2.59, 0.324), ('μ', 2.96, 0.122),
            ('Ft', 0.91, 0.055)], lw_rp=1.0, lw_mf=1.0)

draw_panel((135, 502, 1363, 1704), 7.99, X_labels_g, (7.5, -5), PR_labels_5, FN_g, R_g, P_g, mu_g, Ft_g, A_g,
           'г', (298, 1737), r'V$_\mathregular{s}$=50', 5,
           [('FN', 1.44, 0.829), ('R', 4.17, 0.605), ('P', 3.08, 0.537), ('A', 6.34, 0.327), ('μ', 2.6, 0.127),
            ('Ft', 0.73, 0.059)], lw_rp=1.0, lw_mf=1.0)

draw_panel((747, 1108, 45, 376), 7.97, X_labels_d, (4, -6), PR_labels_6, FN_d, R_d, P_d, mu_d, Ft_d, A_d,
           'д', (902, 415), r'V$_\mathregular{s}$= 75', 1,
           [('FN', 1.45, 0.824), ('A', 3.35, 0.449), ('R', 4.12, 0.362), ('P', 3.11, 0.296), ('μ', 2.49, 0.118),
            ('Ft', 0.94, 0.06)])

draw_panel((748, 1112, 484, 823), 7.95, X_labels_e, (4, -6), PR_labels_6, FN_e, R_e, P_e, mu_e, Ft_e, A_e,
           'е', (902, 854), r'V$_\mathregular{s}$= 100', 9,
           [('FN', 1.44, 0.821), ('R', 4.32, 0.383), ('P', 3.15, 0.307), ('A', 3.42, 0.202), ('μ', 2.6, 0.118),
            ('Ft', 0.92, 0.071)])

draw_panel((746, 1110, 927, 1259), 7.94, X_labels_zh, (3, -2), PR_labels_2, FN_zh, R_zh, P_zh, mu_zh, Ft_zh, A_zh,
           'ж', (902, 1294), r'V$_\mathregular{s}$= 200', 9,
           [('FN', 1.46, 0.82), ('R', 4.32, 0.524), ('P', 3.24, 0.399), ('μ', 1.72, 0.133), ('Ft', 0.78, 0.063),
            ('A', 7.29, 0.093)],
           x_grid=x_zh, x_fn=np.linspace(x_zh[0], x_zh[-1], len(FN_zh)))

x_z = np.linspace(z_start, z_end, len(R_z))
draw_panel((745, 1106, 1366, 1696), 7.90, X_labels_z, (3, -2), PR_labels_2, FN_z, R_z, P_z, mu_z, Ft_z, A_z,
           'з', (902, 1730), r'V$_\mathregular{s}$= 400', 2,
           [('FN', 1.47, 0.812), ('R', 4.26, 0.626), ('P', 3.23, 0.452), ('μ', 1.7, 0.145), ('Ft', 0.77, 0.064),
            ('A', 6.7, 0.082)],
           x_grid=x_z, A_pairs=False)

fig.savefig('out.png', dpi=100, facecolor='white')
